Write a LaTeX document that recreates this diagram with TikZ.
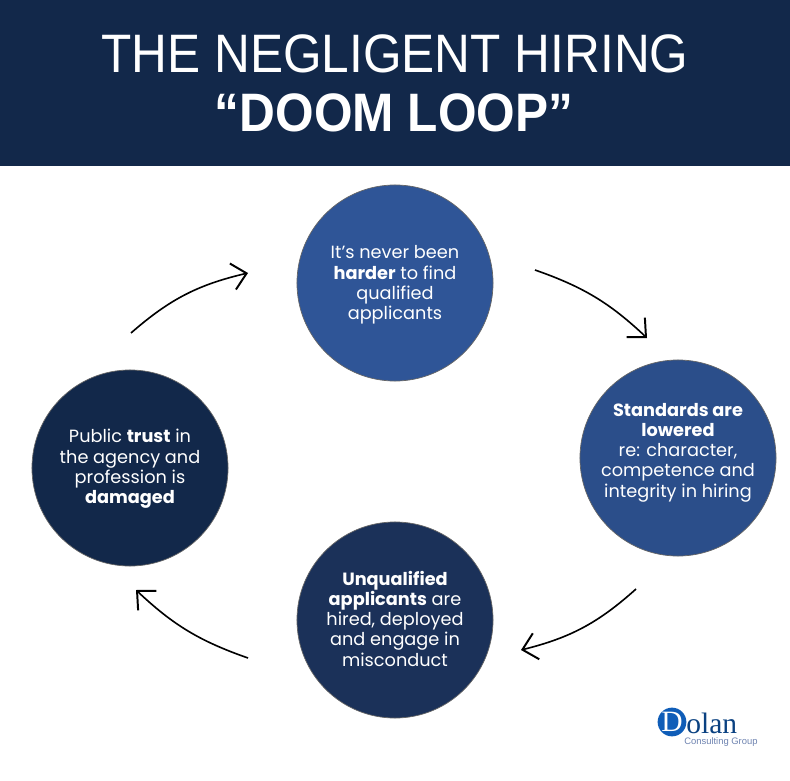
\documentclass[tikz,border=0pt]{standalone}
\usepackage{fontspec}
\usetikzlibrary{arrows.meta}
\setmainfont{Poppins}
\newfontfamily\titlefont[FakeStretch=0.916]{Liberation Sans}
\newfontfamily\logosans{Liberation Sans}
\newfontfamily\logofont{Liberation Serif}
\definecolor{navy}{HTML}{12284A}
\definecolor{midblue}{HTML}{2F5597}
\definecolor{rightblue}{HTML}{2B4E8A}
\definecolor{lowblue}{HTML}{1B3159}
\definecolor{logoblue}{HTML}{0F5DB8}
\definecolor{logogrey}{HTML}{6E83B0}
\tikzset{
	loopcircle/.style={circle,draw=black!60,line width=0.5pt,minimum size=4.9cm,inner sep=0pt},
	looptext/.style={text=white,align=center,inner sep=0pt,font=\fontsize{12.6}{14.4}\selectfont},
	looparrow/.style={-{Straight Barb[length=10pt,width=19pt,line width=1.4pt]},line width=1.15pt,black}
}
\begin{document}
\begin{tikzpicture}[x=0.025cm,y=-0.025cm]
	\useasboundingbox (0,0) rectangle (790,781);
	\fill[navy] (0,0) rectangle (790,166);
	\draw (395,54) node [text=white,font=\titlefont\fontsize{38.5}{40}\selectfont] (title1) {THE NEGLIGENT HIRING};
	\draw (394,113) node [text=white,font=\titlefont\bfseries\fontsize{38.5}{40}\selectfont] (title2) {“DOOM LOOP”};
	\draw (395,283) node [loopcircle,fill=midblue] (top) {};
	\draw (395,285) node [looptext] (toptext) {It’s never been\\\textbf{harder} to find\\qualified\\applicants};
	\draw (678,458) node [loopcircle,fill=rightblue] (right) {};
	\draw (678,452.5) node [looptext] (righttext) {\textbf{Standards are}\\\textbf{lowered}\\re: character,\\competence and\\integrity in hiring};
	\draw (395,620) node [loopcircle,fill=lowblue] (bottom) {};
	\draw (395,618.5) node [looptext] (bottomtext) {\textbf{Unqualified}\\\textbf{applicants} are\\hired, deployed\\and engage in\\misconduct};
	\draw (130,468) node [loopcircle,fill=navy] (left) {};
	\draw (130,469) node [looptext] (lefttext) {Public \textbf{trust} in\\the agency and\\profession is\\\textbf{damaged}};
	\coordinate (a1) at (131,333);
	\coordinate (a2) at (248,273);
	\coordinate (b1) at (535,270);
	\coordinate (b2) at (647,338);
	\coordinate (c1) at (636,589);
	\coordinate (c2) at (521,650);
	\coordinate (d1) at (248,658);
	\coordinate (d2) at (136,590);
	\draw[looparrow] (a1) to [bend left=14] (a2);
	\draw[looparrow] (b1) to [bend left=12] (b2);
	\draw[looparrow] (c1) to [bend left=14] (c2);
	\draw[looparrow] (d1) to [bend left=12] (d2);
	% logo
	\draw (672,722) node [circle,fill=logoblue,minimum size=0.68cm,inner sep=0pt,text=white,font=\logofont\fontsize{21}{21}\selectfont] (logomark) {D};
	\draw (686,733) node [anchor=base west,inner sep=0pt,text=logoblue!70!black,font=\logofont\fontsize{21}{21}\selectfont] (logotext) {olan};
	\draw (684,744) node [anchor=base west,inner sep=0pt,text=logogrey,font=\logosans\fontsize{6.7}{7}\selectfont] (logosub) {Consulting Group};
\end{tikzpicture}
\end{document}
